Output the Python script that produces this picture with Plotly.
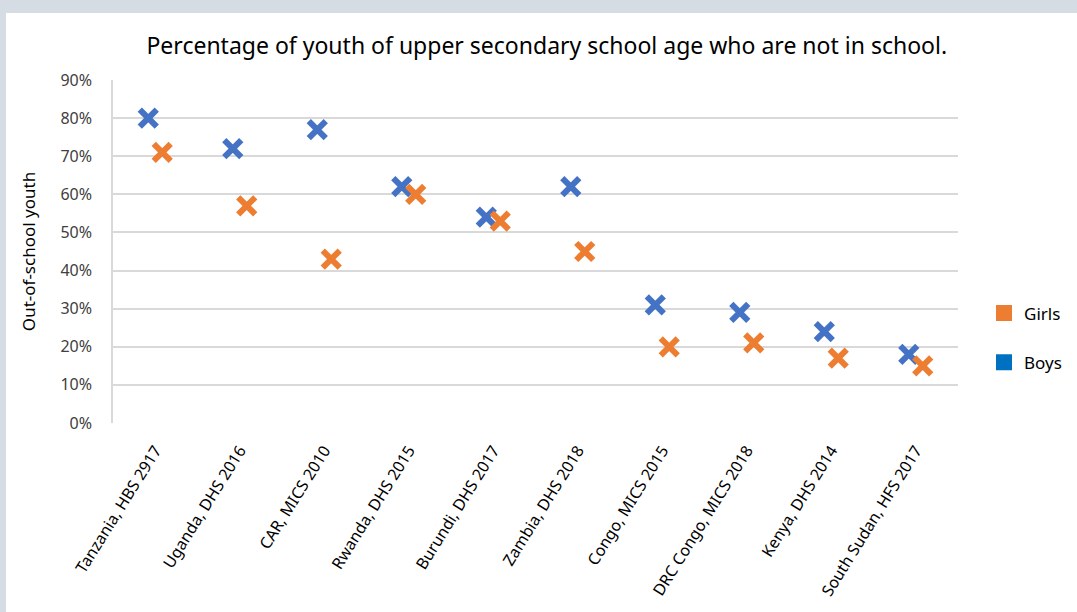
import plotly.graph_objects as go

# Surveys (country, survey, year) and share of youth of upper secondary age out of school (%)
surveys = [
    "Tanzania, HBS 2917",
    "Uganda, DHS 2016",
    "CAR, MICS 2010",
    "Rwanda, DHS 2015",
    "Burundi, DHS 2017",
    "Zambia, DHS 2018",
    "Congo, MICS 2015",
    "DRC Congo, MICS 2018",
    "Kenya, DHS 2014",
    "South Sudan, HFS 2017",
]
boys = [80, 72, 77, 62, 54, 62, 31, 29, 24, 18]
girls = [71, 57, 43, 60, 53, 45, 20, 21, 17, 15]

y_ticks = [0, 10, 20, 30, 40, 50, 60, 70, 80, 90]
y_tick_labels = [f"{v}%" for v in y_ticks]

BOYS_MARK = "#4472C4"
GIRLS_MARK = "#ED7D31"
BOYS_KEY = "#0070C0"
GIRLS_KEY = "#ED7D31"
FRAME = "#D6DCE4"
GRID = "#D9D9D9"
FONT = "Noto Sans"

fig = go.Figure()

# data markers (boys on the left of each category, girls on the right)
fig.add_trace(go.Scatter(
    x=surveys, y=boys, mode="markers", name="Boys", showlegend=False,
    offsetgroup="boys",
    marker=dict(symbol="x-thin", size=17, color=BOYS_MARK,
                line=dict(color=BOYS_MARK, width=6)),
))
fig.add_trace(go.Scatter(
    x=surveys, y=girls, mode="markers", name="Girls", showlegend=False,
    offsetgroup="girls",
    marker=dict(symbol="x-thin", size=17, color=GIRLS_MARK,
                line=dict(color=GIRLS_MARK, width=6)),
))

# legend keys drawn as solid squares
fig.add_trace(go.Scatter(
    x=[None], y=[None], mode="markers", name="Girls", legendgroup="g",
    offsetgroup="girls", legendrank=1,
    marker=dict(symbol="square", size=16, color=GIRLS_KEY),
))
fig.add_trace(go.Scatter(
    x=[None], y=[None], mode="markers", name="Boys", legendgroup="b",
    offsetgroup="boys", legendrank=2,
    marker=dict(symbol="square", size=16, color=BOYS_KEY),
))

L, R, T, B = 113, 119, 80, 189
W, H = 1077, 612
pw, ph = W - L - R, H - T - B


def px_x(p):
    return (p - L) / pw


def px_y(p):
    return (H - B - p) / ph


# grey frame strips along the top and left edges
fig.add_shape(type="rect", xref="paper", yref="paper", layer="below",
              x0=px_x(0), x1=px_x(W), y0=px_y(13), y1=px_y(0),
              fillcolor=FRAME, line_width=0)
fig.add_shape(type="rect", xref="paper", yref="paper", layer="below",
              x0=px_x(0), x1=px_x(6), y0=px_y(H), y1=px_y(0),
              fillcolor=FRAME, line_width=0)

fig.update_layout(
    width=W, height=H,
    margin=dict(l=L, r=R, t=T, b=B, autoexpand=False),
    paper_bgcolor="white", plot_bgcolor="white",
    font=dict(family=FONT, color="#404040"),
    scattermode="group", scattergap=0.67,
    title=dict(
        text="Percentage of youth of upper secondary school age who are not in school.",
        font=dict(family=FONT, size=23, color="#000000"),
        x=px_x(542), xanchor="center", y=1 - 46 / H, yanchor="middle",
    ),
    xaxis=dict(
        type="category", categoryorder="array", categoryarray=surveys,
        tickangle=-58, tickfont=dict(size=16, color="#000000"),
        showgrid=False, showline=False, ticks="", zeroline=False,
        ticklabelstandoff=14, automargin=False,
    ),
    yaxis=dict(
        range=[0, 90], tickmode="array", tickvals=y_ticks, ticktext=y_tick_labels,
        tickfont=dict(size=16, color="#404040"),
        showgrid=True, gridcolor=GRID, gridwidth=1.5,
        showline=True, linecolor=GRID, linewidth=1.5,
        zeroline=False, ticks="", ticklabelstandoff=16, automargin=False,
        title=dict(text="Out-of-school youth",
                   font=dict(size=17, color="#000000"), standoff=20),
    ),
    legend=dict(
        x=px_x(984), xanchor="left", y=px_y(338), yanchor="middle",
        font=dict(size=17, color="#000000"),
        tracegroupgap=24, bgcolor="rgba(0,0,0,0)",
    ),
)

fig.write_html("out.html")
